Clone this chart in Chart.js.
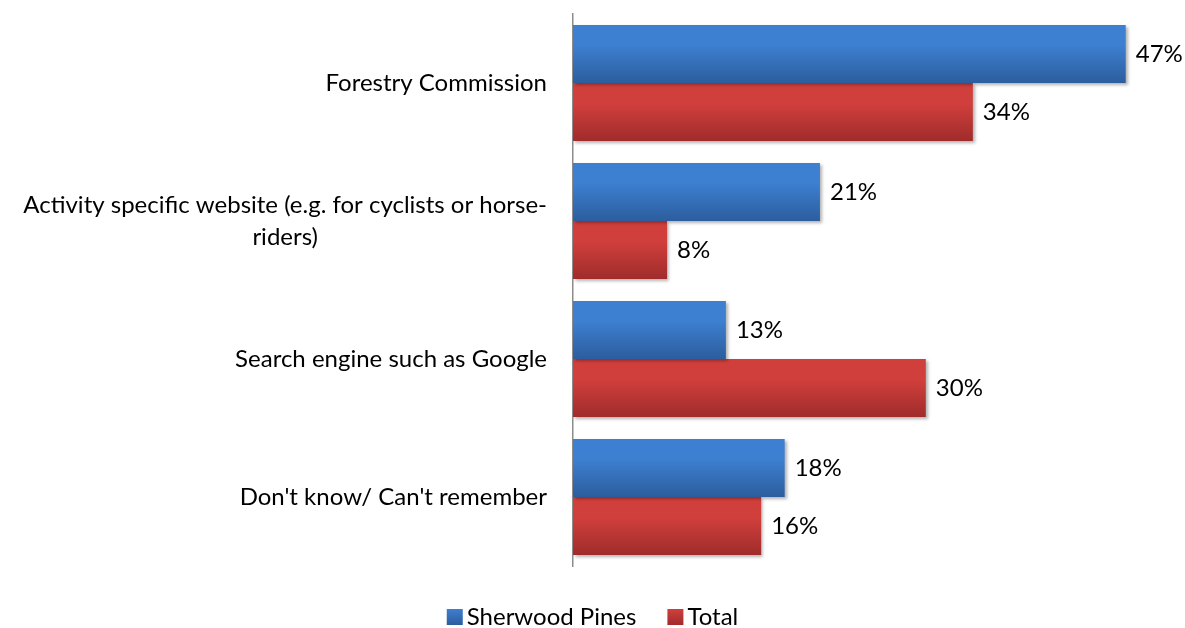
<!DOCTYPE html>
<html>
<head>
<meta charset="utf-8">
<script src="https://cdn.jsdelivr.net/npm/chart.js@4.4.0/dist/chart.umd.min.js"></script>
<style>
  html, body { margin: 0; padding: 0; background: #fff; }
  #wrap { width: 1185px; height: 628px; }
</style>
</head>
<body>
<div id="wrap"><canvas id="myChart" width="1185" height="628"></canvas></div>
<script>
let categories = [
  ['Forestry Commission'],
  ['Activity specific website (e.g. for cyclists or horse-', 'riders)'],
  ['Search engine such as Google'],
  ["Don't know/ Can't remember"]
];
let seriesNames = ['Sherwood Pines', 'Total'];
let sherwood = [47, 21, 13, 18];
let total = [34, 8, 30, 16];

let FONT = 'Lato, "Open Sans", sans-serif';
let FSIZE = 24;

// top/bottom colours of each series gradient
let colorTop = ['#3d7fd0', '#d13f3c'];
let colorBottom = ['#2c5d9e', '#9f2c2b'];

function barGradient(context) {
  let chart = context.chart;
  let yScale = chart.scales.y;
  let i = context.datasetIndex;
  if (!yScale || context.dataIndex === undefined) return colorTop[i];
  let band = yScale.getPixelForValue(1) - yScale.getPixelForValue(0);
  let c = yScale.getPixelForValue(context.dataIndex);
  if (!isFinite(band) || !isFinite(c)) return colorTop[i];
  let h = band * 0.42;
  let y0 = i === 0 ? c - h : c;
  let g = chart.ctx.createLinearGradient(0, y0, 0, y0 + h);
  g.addColorStop(0, colorTop[i]);
  g.addColorStop(0.35, colorTop[i]);
  g.addColorStop(1, colorBottom[i]);
  return g;
}

// shadow under the bars
let barShadow = {
  id: 'barShadow',
  beforeDatasetsDraw(chart) {
    let c = chart.ctx;
    c.save();
    c.shadowColor = 'rgba(0,0,0,0.3)';
    c.shadowOffsetX = 2;
    c.shadowOffsetY = 2;
    c.shadowBlur = 3;
  },
  afterDatasetsDraw(chart) {
    chart.ctx.restore();
  }
};

// value labels, category labels and legend
let textLayer = {
  id: 'textLayer',
  afterDatasetsDraw(chart) {
    let c = chart.ctx;
    c.save();
    c.font = FSIZE + 'px ' + FONT;
    c.fillStyle = '#000';
    c.textBaseline = 'middle';
    chart.data.datasets.forEach(function (ds, di) {
      chart.getDatasetMeta(di).data.forEach(function (bar, j) {
        c.textAlign = 'left';
        c.fillText(ds.data[j] + '%', bar.x + 10, bar.y);
      });
    });
    let yScale = chart.scales.y;
    let right = chart.chartArea.left - 26;
    categories.forEach(function (lines, j) {
      let cy = yScale.getPixelForValue(j);
      let lh = 32;
      let widest = Math.max.apply(null, lines.map(function (l) { return c.measureText(l).width; }));
      let mid = right - widest / 2;
      lines.forEach(function (l, k) {
        c.textAlign = 'center';
        c.fillText(l, mid, cy + (k - (lines.length - 1) / 2) * lh);
      });
    });

    // legend
    let box = 16, gapText = 4, gapItem = 31, ly = 617;
    let widths = seriesNames.map(function (n) { return box + gapText + c.measureText(n).width; });
    let totalW = widths.reduce(function (a, b) { return a + b; }, 0) + gapItem * (seriesNames.length - 1);
    let x = (chart.width - totalW) / 2;
    seriesNames.forEach(function (n, i) {
      let g = c.createLinearGradient(0, ly - box / 2, 0, ly + box / 2);
      g.addColorStop(0, colorTop[i]);
      g.addColorStop(1, colorBottom[i]);
      c.fillStyle = g;
      c.fillRect(x, ly - box / 2, box, box);
      c.fillStyle = '#000';
      c.textAlign = 'left';
      c.fillText(n, x + box + gapText, ly);
      x += widths[i] + gapItem;
    });
    c.restore();
  }
};

let ctx = document.getElementById('myChart').getContext('2d');

let myChart = new Chart(ctx, {
  type: 'bar',
  data: {
    labels: categories,
    datasets: [
      { label: seriesNames[0], data: sherwood, backgroundColor: barGradient },
      { label: seriesNames[1], data: total, backgroundColor: barGradient }
    ]
  },
  options: {
    indexAxis: 'y',
    responsive: false,
    animation: false,
    categoryPercentage: 116 / 138,
    barPercentage: 1,
    layout: { padding: { left: 573, top: 14, right: 24, bottom: 0 } },
    scales: {
      x: {
        min: 0,
        max: 50,
        grid: { display: false, drawTicks: false },
        border: { display: false },
        ticks: { display: false },
        afterFit: function (scale) { scale.height = 62; }
      },
      y: {
        grid: { display: false, drawTicks: false },
        border: { display: true, color: '#8c8c8c', width: 1.5 },
        ticks: { display: false },
        afterFit: function (scale) { scale.width = 0; }
      }
    },
    plugins: {
      tooltip: { enabled: false },
      legend: { display: false }
    }
  },
  plugins: [barShadow, textLayer]
});
</script>
</body>
</html>
